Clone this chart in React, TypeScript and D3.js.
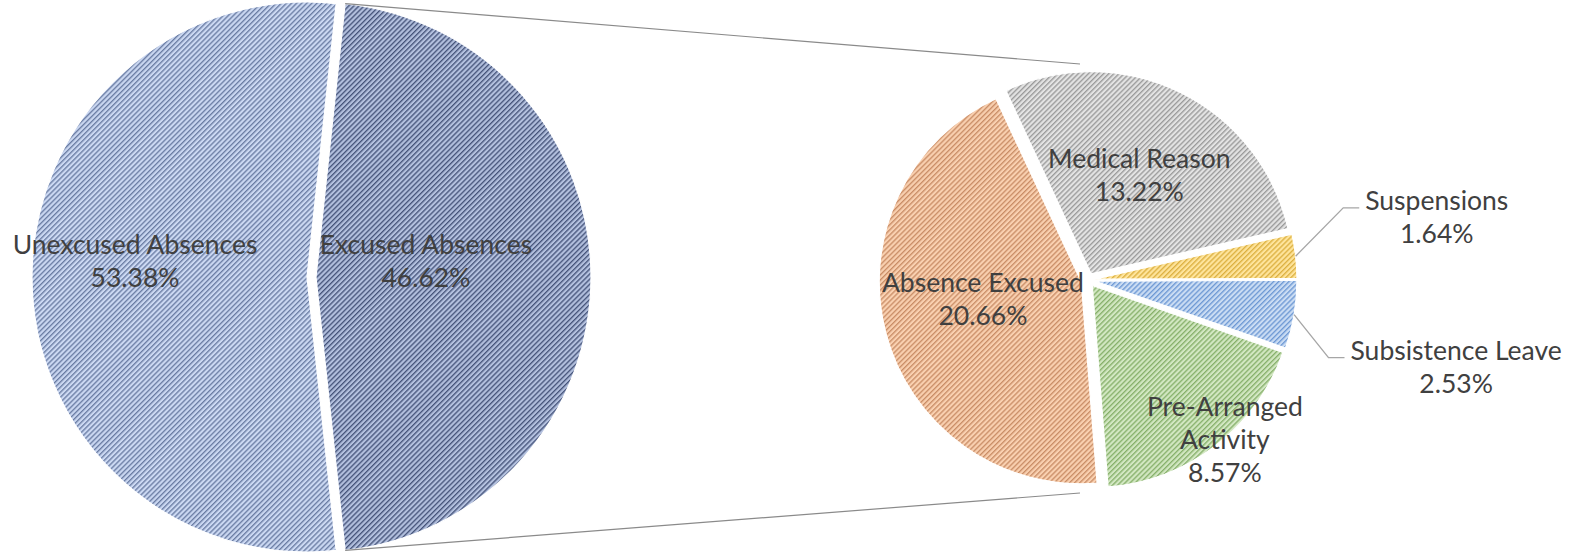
import React, { useEffect, useRef } from "react";
import * as d3 from "d3";

// ---- data ----
const mainCategories = ["Excused Absences", "Unexcused Absences"];
const mainValues = [46.62, 53.38];

const detailCategories = ["Absence Excused", "Medical Reason", "Suspensions", "Subsistence Leave", "Pre-Arranged Activity"];
const detailValues = [20.66, 13.22, 1.64, 2.53, 8.57];
const detailLabelLines = [["Absence Excused"], ["Medical Reason"], ["Suspensions"], ["Subsistence Leave"], ["Pre-Arranged", "Activity"]];

// ---- layout / style ----
const WIDTH = 1577;
const HEIGHT = 557;
const FONT = "Lato, 'Open Sans', sans-serif";
const FONT_SIZE = 26.5;
const LINE_H = 33;
const TEXT_COLOR = "#404040";
const HATCH = 3.6;
const HATCH_LINE = 1.35;

const mainPie = { cx: 307, cy: 277, r: 275 };
const mainExplode = [9, 0];
const mainFills = [
  { fg: "#46547a", bg: "#b3c0de" },
  { fg: "#6a7ca3", bg: "#cbd8f2" },
];
const mainLabelDist = [0.404, 0.628];
const mainLabelTurn = [-8.3, 5.3];

const detailPie = { cx: 1088, cy: 280, r: 202, startDeg: 175.5, explode: 7 };
const detailFills = [
  { fg: "#c98d66", bg: "#f9d0b0" },
  { fg: "#9a9a9a", bg: "#e3e3e3" },
  { fg: "#dcb040", bg: "#fee49c" },
  { fg: "#6d98d4", bg: "#cadcf3" },
  { fg: "#86b06a", bg: "#d2e7c2" },
];
const detailLabelDist = [0.494, 0.543, 1.72, 1.838, 1.007];
const detailLabelTurn = [4.95, 0, -3.75, 3.8, -3.1];
const detailLeader = [false, false, true, true, false];

const rad = (deg: number) => (deg * Math.PI) / 180;
const polar = (a: number, d: number): [number, number] => [Math.sin(a) * d, -Math.cos(a) * d];

export default function App() {
  const ref = useRef<SVGSVGElement>(null);

  useEffect(() => {
    document.body.style.margin = "0";
    const svg = d3.select(ref.current);
    svg.selectAll("*").remove();

    const defs = svg.append("defs");
    const addPattern = (id: string, fill: { fg: string; bg: string }) => {
      const p = defs.append("pattern")
        .attr("id", id)
        .attr("patternUnits", "userSpaceOnUse")
        .attr("width", HATCH)
        .attr("height", HATCH)
        .attr("patternTransform", "rotate(45)");
      p.append("rect").attr("width", HATCH).attr("height", HATCH).attr("fill", fill.bg);
      p.append("rect").attr("width", HATCH_LINE).attr("height", HATCH).attr("fill", fill.fg);
    };
    mainFills.forEach((f, i) => addPattern("main-hatch-" + i, f));
    detailFills.forEach((f, i) => addPattern("detail-hatch-" + i, f));

    const labelLayer: { x: number; y: number; lines: string[]; leader?: [number, number] }[] = [];

    // ---- main pie ----
    const excusedSpan = (2 * Math.PI * mainValues[0]) / d3.sum(mainValues);
    const mainStart = Math.PI / 2 - excusedSpan / 2;
    const mainArcs = d3.pie<number>().sort(null).value(d => d)
      .startAngle(mainStart).endAngle(mainStart + 2 * Math.PI)(mainValues);
    const mainArc = d3.arc<d3.PieArcDatum<number>>().innerRadius(0).outerRadius(mainPie.r);

    const mainCenters = mainArcs.map((a, i) => {
      const mid = (a.startAngle + a.endAngle) / 2;
      const [ox, oy] = polar(mid, mainExplode[i]);
      return [mainPie.cx + ox, mainPie.cy + oy] as [number, number];
    });

    svg.append("g").selectAll("path")
      .data(mainArcs)
      .join("path")
      .attr("transform", (_d, i) => `translate(${mainCenters[i][0]},${mainCenters[i][1]})`)
      .attr("d", mainArc)
      .attr("fill", (_d, i) => `url(#main-hatch-${i})`)
      .attr("stroke", "#fff")
      .attr("stroke-width", 1.2);

    mainArcs.forEach((a, i) => {
      const mid = (a.startAngle + a.endAngle) / 2 + rad(mainLabelTurn[i]);
      const [lx, ly] = polar(mid, mainLabelDist[i] * mainPie.r);
      labelLayer.push({
        x: mainCenters[i][0] + lx,
        y: mainCenters[i][1] + ly,
        lines: [mainCategories[i], mainValues[i].toFixed(2) + "%"],
      });
    });

    // ---- detail pie ----
    const detailStart = rad(detailPie.startDeg);
    const detailArcs = d3.pie<number>().sort(null).value(d => d)
      .startAngle(detailStart).endAngle(detailStart + 2 * Math.PI)(detailValues);
    const detailArc = d3.arc<d3.PieArcDatum<number>>().innerRadius(0).outerRadius(detailPie.r);

    const detailCenters = detailArcs.map(a => {
      const mid = (a.startAngle + a.endAngle) / 2;
      const [ox, oy] = polar(mid, detailPie.explode);
      return [detailPie.cx + ox, detailPie.cy + oy] as [number, number];
    });

    svg.append("g").selectAll("path")
      .data(detailArcs)
      .join("path")
      .attr("transform", (_d, i) => `translate(${detailCenters[i][0]},${detailCenters[i][1]})`)
      .attr("d", detailArc)
      .attr("fill", (_d, i) => `url(#detail-hatch-${i})`)
      .attr("stroke", "#fff")
      .attr("stroke-width", 1.2);

    detailArcs.forEach((a, i) => {
      const midRaw = (a.startAngle + a.endAngle) / 2;
      const mid = midRaw + rad(detailLabelTurn[i]);
      const [lx, ly] = polar(mid, detailLabelDist[i] * detailPie.r);
      const [ex, ey] = polar(midRaw, detailPie.r);
      labelLayer.push({
        x: detailCenters[i][0] + lx,
        y: detailCenters[i][1] + ly,
        lines: [...detailLabelLines[i], detailValues[i].toFixed(2) + "%"],
        leader: detailLeader[i] ? [detailCenters[i][0] + ex, detailCenters[i][1] + ey] : undefined,
      });
    });

    // ---- series lines between the pies ----
    const excused = mainArcs[0];
    const connectors = [
      [polar(excused.startAngle, mainPie.r), [detailPie.cx - 8, detailPie.cy - detailPie.r - 14]],
      [polar(excused.endAngle, mainPie.r), [detailPie.cx - 8, detailPie.cy + detailPie.r + 11]],
    ];
    svg.append("g").selectAll("line")
      .data(connectors)
      .join("line")
      .attr("x1", d => mainCenters[0][0] + d[0][0])
      .attr("y1", d => mainCenters[0][1] + d[0][1])
      .attr("x2", d => d[1][0])
      .attr("y2", d => d[1][1])
      .attr("stroke", "#8a8a8a")
      .attr("stroke-width", 1.2);

    // ---- labels ----
    const labels = svg.append("g");
    labelLayer.forEach(l => {
      const n = l.lines.length;
      const y0 = l.y - ((n - 1) * LINE_H) / 2 + FONT_SIZE * 0.35;
      const text = labels.append("text")
        .attr("font-family", FONT)
        .attr("font-size", FONT_SIZE)
        .attr("fill", TEXT_COLOR)
        .attr("text-anchor", "middle");
      l.lines.forEach((s, k) => {
        text.append("tspan").attr("x", l.x).attr("y", y0 + k * LINE_H).text(s);
      });
      if (l.leader) {
        const widths = text.selectAll<SVGTSpanElement, unknown>("tspan").nodes().map(t => t.getComputedTextLength());
        const left = l.x - d3.max(widths)! / 2;
        const hy = y0 - 2;
        labels.insert("polyline", "text")
          .attr("points", `${l.leader[0]},${l.leader[1]} ${left - 22},${hy} ${left - 6},${hy}`)
          .attr("fill", "none")
          .attr("stroke", "#a6a6a6")
          .attr("stroke-width", 1.3);
      }
    });
  }, []);

  return <svg ref={ref} width={WIDTH} height={HEIGHT} style={{ display: "block", background: "#fff" }} />;
}
